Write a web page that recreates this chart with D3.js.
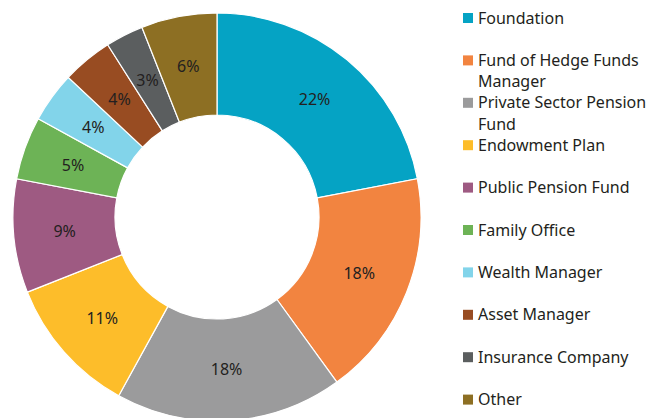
<!doctype html>
<html lang="en">
  <head>
    <meta charset="utf-8">
    <title>Investor types</title>
    <style>
    body { margin: 0; background: #fff; }
    .slice-label { font-family: "Noto Sans", sans-serif; font-size: 16px; fill: #231f20; }
    .legend text { font-family: "Noto Sans", sans-serif; font-size: 16px; fill: #231f20; }
    </style>
  </head>
  <body>
    <div id="content"></div>

    <script src="https://d3js.org/d3.v7.min.js"></script>
    <script type="text/javascript">
    var w = 652;
    var h = 418;

    // investor categories and their share (%)
    var categories = ['Foundation', 'Fund of Hedge Funds Manager', 'Private Sector Pension Fund',
                      'Endowment Plan', 'Public Pension Fund', 'Family Office', 'Wealth Manager',
                      'Asset Manager', 'Insurance Company', 'Other'];
    var shares = [22, 18, 18, 11, 9, 5, 4, 4, 3, 6];
    var colors = ['#05a3c4', '#f28440', '#9b9b9c', '#fdbd2a', '#9e5a82',
                  '#6db356', '#82d4ea', '#984c22', '#5b5e5f', '#8d6f23'];

    var cx = 217, cy = 217;
    var outerR = 204, innerR = 102;

    var svg = d3.select('#content')
                .append('svg')
                .attr('width', w)
                .attr('height', h);

    var dataset = categories.map((c, i) => ({name: c, value: shares[i]}));

    var color = d3.scaleOrdinal()
                  .domain(categories)
                  .range(colors);

    var pie = d3.pie()
                .sort(null)
                .value(d => d.value);

    var arc = d3.arc()
                .innerRadius(innerR)
                .outerRadius(outerR);

    var g = svg.append('g')
               .attr('transform', `translate(${cx}, ${cy})`);

    var arcs = pie(dataset);

    g.selectAll('path')
      .data(arcs)
      .enter()
      .append('path')
      .attr('d', arc)
      .attr('fill', d => color(d.data.name))
      .attr('stroke', '#fff')
      .attr('stroke-width', 1.2);

    g.selectAll('text')
      .data(arcs)
      .enter()
      .append('text')
      .attr('class', 'slice-label')
      .attr('transform', d => `translate(${arc.centroid(d)})`)
      .attr('text-anchor', 'middle')
      .attr('dy', '0.35em')
      .text(d => d.data.value + '%');

    // legend
    var legendX = 463, legendTop = 18, rowGap = 42.4, lineH = 21.5, maxW = 176;

    var legend = svg.append('g')
                    .attr('class', 'legend');

    var rows = legend.selectAll('g')
                     .data(categories)
                     .enter()
                     .append('g')
                     .attr('transform', (d, i) => `translate(${legendX}, ${legendTop + i * rowGap})`);

    rows.append('rect')
        .attr('x', 0)
        .attr('y', -5)
        .attr('width', 10)
        .attr('height', 10)
        .attr('fill', d => color(d));

    rows.append('text')
        .each(function(d) {
          var text = d3.select(this);
          var words = d.split(' ');
          var line = [];
          var lineNo = 0;
          var tspan = text.append('tspan').attr('x', 15).attr('y', 0).attr('dy', '0.35em');
          words.forEach(word => {
            line.push(word);
            tspan.text(line.join(' '));
            if (tspan.node().getComputedTextLength() > maxW && line.length > 1) {
              line.pop();
              tspan.text(line.join(' '));
              line = [word];
              lineNo++;
              tspan = text.append('tspan')
                          .attr('x', 15)
                          .attr('y', lineNo * lineH)
                          .attr('dy', '0.35em')
                          .text(word);
            }
          });
        });
    </script>
  </body>
</html>
